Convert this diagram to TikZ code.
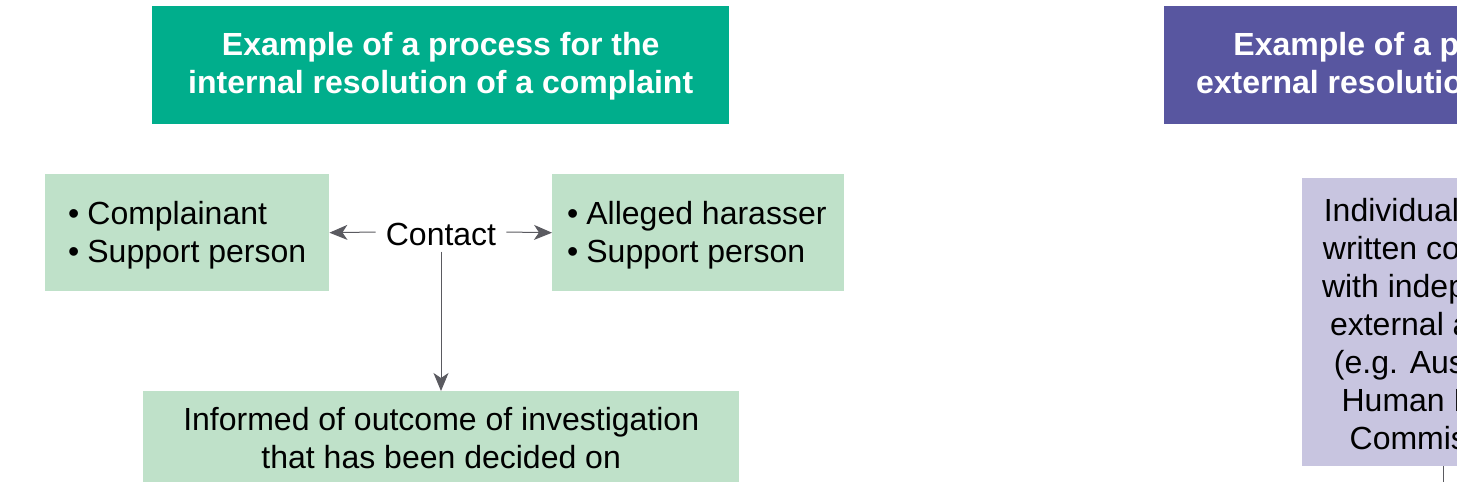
\documentclass[tikz,border=0pt]{standalone}
\usepackage{fontspec}
\setmainfont{Liberation Sans}
\usetikzlibrary{arrows.meta}
\definecolor{tgreen}{HTML}{00AE8C}
\definecolor{lgreen}{HTML}{BFE1C9}
\definecolor{tpurple}{HTML}{5856A0}
\definecolor{lpurple}{HTML}{C8C5E0}
\definecolor{arr}{HTML}{5A5A60}
\tikzset{
 title/.style={fill=#1,text=white,font=\fontsize{32}{38}\selectfont\bfseries,align=center,inner sep=0,anchor=north west},
 box/.style={fill=#1,font=\fontsize{32}{38}\selectfont,inner sep=0,anchor=north west},
 conn/.style={draw=arr,line width=1pt,-{Stealth[length=18pt,width=15pt,inset=5pt]}}
}
\begin{document}
\begin{tikzpicture}[x=1pt,y=-1pt]
\useasboundingbox (0,0) rectangle (1457,482);
\clip (0,0) rectangle (1457,482);
\node[title=tgreen,minimum width=577pt,minimum height=120pt] (t1) at (152,6) {Example of a process for the\\internal resolution of a complaint};
\node[title=tpurple,minimum width=576pt,minimum height=120pt] (t2) at (1164,6) {Example of a process for the\\external resolution of a complaint};
\fill[white] (0,124) rectangle (1457,130);
\node[box=lgreen,minimum width=284pt,minimum height=117pt] (b1) at (45,174) {};
\node[anchor=west,font=\fontsize{32}{38}\selectfont,align=left,inner sep=0] at (68,235) {•\hspace{8pt}Complainant\\•\hspace{8pt}Support person};
\node[box=lgreen,minimum width=292pt,minimum height=117pt] (b2) at (552,174) {};
\node[anchor=west,font=\fontsize{32}{38}\selectfont,align=left,inner sep=0] at (567,235) {•\hspace{8pt}Alleged harasser\\•\hspace{8pt}Support person};
\node[font=\fontsize{32}{38}\selectfont,inner sep=0] (c) at (441,234) {Contact};
\node[box=lgreen,minimum width=596pt,minimum height=93pt,align=center] (b3) at (143,391) {Informed of outcome of investigation\\that has been decided on};
\node[box=lpurple,minimum width=290pt,minimum height=288pt] (b4) at (1302,178) {};
\node[font=\fontsize{32}{38}\selectfont,align=center] at (1443,327) {Individual lodges\\written complaint\\with independent\\external agency\\(e.g. Australian\\Human Rights\\Commission)};
\draw[conn] (c.west)++(-10,-2) -- (b1.east);
\draw[conn] (c.east)++(10,-2) -- (b2.west);
\draw[conn] (c.south)++(0,6) -- (b3.north -| c.south);
\coordinate (e) at (1443,500);
\draw[draw=arr,line width=1pt] (b4.south -| e) -- (e);
\end{tikzpicture}
\end{document}
